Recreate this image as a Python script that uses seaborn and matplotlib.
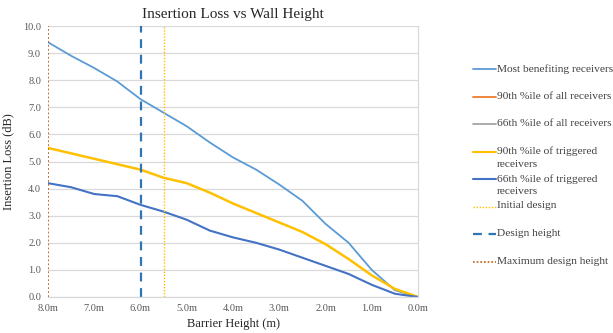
import matplotlib
matplotlib.use("Agg")
import matplotlib.pyplot as plt
from matplotlib.lines import Line2D
import seaborn as sns
import pandas as pd

# Barrier heights (m) and insertion loss (dB)
heights = [8.0, 7.5, 7.0, 6.5, 6.0, 5.5, 5.0, 4.5, 4.0, 3.5, 3.0, 2.5, 2.0, 1.5, 1.0, 0.5, 0.0]
most_benefiting = [9.4, 8.9, 8.45, 7.95, 7.3, 6.8, 6.3, 5.7, 5.15, 4.7, 4.15, 3.55, 2.7, 2.0, 1.0, 0.25, 0.0]
p90_triggered = [5.5, 5.3, 5.1, 4.9, 4.7, 4.4, 4.2, 3.85, 3.45, 3.1, 2.75, 2.4, 1.95, 1.4, 0.8, 0.3, 0.0]
p66_triggered = [4.2, 4.05, 3.8, 3.72, 3.4, 3.15, 2.85, 2.45, 2.2, 2.0, 1.75, 1.45, 1.15, 0.85, 0.45, 0.12, 0.0]

initial_design = 5.5
design_height = 6.0
max_design_height = 8.0

x_ticks = [8, 7, 6, 5, 4, 3, 2, 1, 0]
y_ticks = [0, 1, 2, 3, 4, 5, 6, 7, 8, 9, 10]

sns.set_style("white")
plt.rcParams["font.family"] = ["Liberation Serif", "DejaVu Serif"]

df = pd.DataFrame({
    "height": heights,
    "most": most_benefiting,
    "p90t": p90_triggered,
    "p66t": p66_triggered,
})

fig = plt.figure(figsize=(6.13, 3.33), dpi=100)
ax = fig.add_axes([48 / 613, 1 - 297 / 333, 370 / 613, 271 / 333])

sns.lineplot(data=df, x="height", y="most", ax=ax, color="#5B9BD5", lw=1.3)
sns.lineplot(data=df, x="height", y="p90t", ax=ax, color="#FFC000", lw=1.8)
sns.lineplot(data=df, x="height", y="p66t", ax=ax, color="#4472C4", lw=1.5)
ax.axvline(initial_design, color="#FFC000", lw=1.0, ls=(0, (1, 1.2)))
ax.axvline(design_height, color="#2E75B6", lw=1.6, ls=(0, (4, 3)))
ax.axvline(max_design_height, color="#C55A11", lw=1.3, ls=(0, (1, 1.2)))

ax.set_xlim(8, 0)
ax.set_ylim(0, 10)
ax.set_xticks(x_ticks)
ax.set_xticklabels([f"{t:.1f}m" for t in x_ticks], fontsize=7.5, color="#595959")
ax.set_yticks(y_ticks)
ax.set_yticklabels([f"{t:.1f}" for t in y_ticks], fontsize=7.5, color="#595959")
ax.tick_params(length=0, pad=5)
ax.yaxis.grid(True, color="#D9D9D9", lw=0.9)
for s in ["top", "left"]:
    ax.spines[s].set_visible(False)
for s in ["right", "bottom"]:
    ax.spines[s].set_color("#D9D9D9")
    ax.spines[s].set_linewidth(0.9)

ax.set_title("Insertion Loss vs Wall Height", fontsize=11, pad=6)
ax.set_xlabel("Barrier Height (m)", fontsize=9, labelpad=4)
ax.set_ylabel("Insertion Loss (dB)", fontsize=9, labelpad=6)

# legend, Excel style: handle sits on the first line of each label
legend_items = [
    ("Most benefiting receivers", "#5B9BD5", "-", 1.3),
    ("90th %ile of all receivers", "#ED7D31", "-", 1.3),
    ("66th %ile of all receivers", "#A5A5A5", "-", 1.3),
    ("90th %ile of triggered\nreceivers", "#FFC000", "-", 1.5),
    ("66th %ile of triggered\nreceivers", "#4472C4", "-", 1.5),
    ("Initial design", "#FFC000", (0, (1, 1.2)), 1.0),
    ("Design height", "#2E75B6", (0, (4, 3)), 1.6),
    ("Maximum design height", "#C55A11", (0, (1, 1.2)), 1.2),
]
for i, (text, color, ls, lw) in enumerate(legend_items):
    y = 1 - (69 + 27.5 * i) / 333
    fig.add_artist(Line2D([473 / 613, 496 / 613], [y, y], transform=fig.transFigure,
                          color=color, ls=ls, lw=lw))
    fig.text(497 / 613, y + 5 / 333, text, fontsize=8.2, color="#404040",
             va="top", ha="left", linespacing=1.5)

fig.savefig("out.png", dpi=100)
